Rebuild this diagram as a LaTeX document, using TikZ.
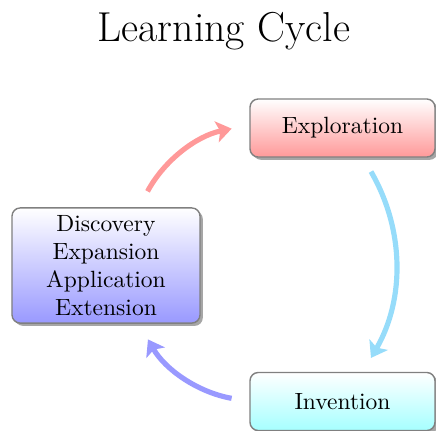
\documentclass[tikz,border=0pt]{standalone}
\usetikzlibrary{shadows,arrows.meta,calc}
\definecolor{skyarrow}{RGB}{150,220,250}
\tikzset{
  box/.style={draw=black!50, line width=0.6pt, rounded corners=3.5pt, inner sep=0pt,
    align=center, top color=white,
    drop shadow={shadow xshift=1.2pt, shadow yshift=-1.2pt, fill=black, opacity=0.35}},
  cyc/.style={line width=2.2pt, -{Stealth[length=6.5pt,width=9pt,inset=1.5pt]}}
}
\begin{document}
\begin{tikzpicture}[x=0.4255pt,y=0.4255pt]
\useasboundingbox (0,0) rectangle (436,-431);
\node (title) at (224,-31) {\fontsize{17.8pt}{21pt}\selectfont Learning Cycle};
\node[box, minimum width=80pt, minimum height=49pt, bottom color=blue!40] (left) at (106,-265.5)
  {Discovery\\Expansion\\Application\\Extension};
\node[box, minimum width=78.7pt, minimum height=24.7pt, bottom color=red!40] (explo) at (342.5,-128) {Exploration};
\node[box, minimum width=78.7pt, minimum height=24.7pt, bottom color=cyan!35] (inv) at (342.5,-401.5) {Invention};
\draw[cyc, red!40, shorten <=18*0.4255pt, shorten >=18*0.4255pt]
  ([shift={(33,0)}]left.north) to[bend left=25] ([shift={(0,3)}]explo.west);
\draw[cyc, skyarrow, shorten <=16*0.4255pt, shorten >=16*0.4255pt]
  ([shift={(20.5,0)}]explo.south) to[bend left=30] ([shift={(20.5,0)}]inv.north);
\draw[cyc, blue!40, shorten <=18*0.4255pt, shorten >=18*0.4255pt]
  (inv.west) to[bend left=25] ([shift={(33,0)}]left.south);
\end{tikzpicture}
\end{document}
